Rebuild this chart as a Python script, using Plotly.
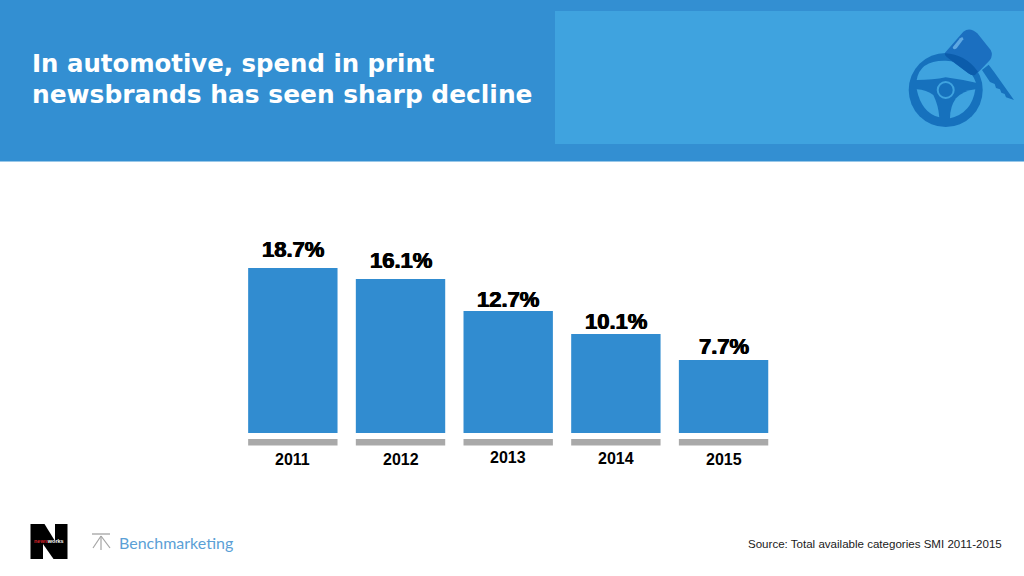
import plotly.graph_objects as go

years = ["2011", "2012", "2013", "2014", "2015"]
share_labels = ["18.7%", "16.1%", "12.7%", "10.1%", "7.7%"]
# Bar lengths as drawn in the picture (the source chart's first bar is not to scale with its label)
drawn_heights = [17.26, 16.1, 12.76, 10.36, 7.64]
rail_base = [-0.63] * 5
rail_length = [-0.68] * 5

W, H = 1024, 576
PX_PER_UNIT = 9.56
BASE_Y = 433
PLOT_TOP, PLOT_BOTTOM = 200, 470
PLOT_LEFT, PLOT_RIGHT = 239.0, 777.4

BLUE = "#318cd0"
HEADER = "#338fd2"
PANEL = "#3fa3df"
ICON = "#1671bd"
ICON_DARK = "#0b5cab"
GREY = "#a9a9a9"

label_shift = [0, 0, -7, -6, -5]
tick_shift = [0, 0, 1.5, 0.5, -0.5]


def px_path(d):
    out = []
    for tok in d.split():
        if tok.isalpha():
            out.append(tok)
        else:
            x, y = tok.split(",")
            out.append(f"{float(x)/W:.5f},{1-float(y)/H:.5f}")
    return " ".join(out)


def z(d):
    out = []
    for tok in d.split():
        if tok.isalpha():
            out.append(tok)
        else:
            x, y = tok.split(",")
            out.append(f"{900+float(x)/3:.2f},{20+float(y)/3:.2f}")
    return " ".join(out)


def rect(x0, y0, x1, y1, color):
    return dict(type="rect", xref="paper", yref="paper", x0=x0/W, x1=x1/W, y0=1-y0/H, y1=1-y1/H,
                fillcolor=color, line_width=0, layer="below")


def circle(cx, cy, r, color, line=None, lw=0):
    return dict(type="circle", xref="paper", yref="paper", x0=(cx-r)/W, x1=(cx+r)/W,
                y0=1-(cy+r)/H, y1=1-(cy-r)/H, fillcolor=color,
                line=dict(color=line or color, width=lw), layer="below")


def path(d, color):
    return dict(type="path", xref="paper", yref="paper", path=px_path(d), fillcolor=color,
                line=dict(color=color, width=0), layer="below")


def line(x0, y0, x1, y1, color, width=1.2):
    return dict(type="line", xref="paper", yref="paper", x0=x0/W, x1=x1/W, y0=1-y0/H, y1=1-y1/H,
                line=dict(color=color, width=width), layer="below")


shapes = [
    rect(0, 0, W, 161.5, HEADER),
    rect(555, 11, W, 144, PANEL),
    # steering wheel
    circle(945.7, 90, 37, ICON),
    path(z("M 50,180 Q 60,120 137,122 Q 205,125 228,188 Q 180,178 137,172 Q 100,180 50,180 Z"), PANEL),
    path(z("M 50,208 Q 80,210 100,225 Q 115,255 118,292 Q 65,280 50,208 Z"), PANEL),
    path(z("M 226,208 Q 190,212 168,235 Q 150,260 150,295 Q 215,280 226,208 Z"), PANEL),
    circle(945.7, 90, 8, ICON, PANEL, 2),
    # key blade
    path(z("M 246,150 L 266,134 L 284,158 L 342,240 L 318,232 L 314,222 L 304,218 L 300,208 L 288,204 L 284,192 L 270,186 Z"), ICON),
    # key head
    path(z("M 135,98 L 190,35 Q 210,20 232,40 L 272,90 Q 280,105 270,120 L 232,160 Q 222,170 205,160 L 145,115 Q 130,105 135,98 Z"), "#1b6fc0"),
    path(z("M 135,100 Q 195,102 234,155 L 225,165 Q 215,168 205,160 L 145,115 Q 132,106 135,100 Z"), ICON_DARK),
    path(z("M 158,82 L 180,55 Q 190,48 190,58 L 170,85 Q 160,92 158,82 Z"), "#5fa8e2"),
    # newsworks logo
    rect(30.5, 524, 67.5, 559, "#000000"),
    path("M 44.5,524 L 55,524 L 55,541 Z", "#ffffff"),
    path("M 43,544 L 53.5,559 L 43,559 Z", "#ffffff"),
    # benchmarketing mark
    line(92, 534, 110, 534, "#9a9a9a", 1.2),
    line(101, 536, 93, 548, "#a5a5a5", 1.2),
    line(101, 536, 101, 550, "#a5a5a5", 1.2),
    line(101, 536, 110, 548, "#a5a5a5", 1.2),
]

fig = go.Figure()
fig.add_trace(go.Bar(x=years, y=drawn_heights, marker=dict(color=BLUE, line_width=0), showlegend=False))
fig.add_trace(go.Bar(x=years, y=rail_length, base=rail_base, marker=dict(color=GREY, line_width=0), showlegend=False))

annotations = []
for i, text in enumerate(share_labels):
    annotations.append(dict(
        x=i, y=drawn_heights[i], xref="x", yref="y", text=text, showarrow=False,
        yanchor="bottom", yshift=4 + label_shift[i],
        font=dict(family="Liberation Sans", size=22, color="#000000", weight="bold",
                  shadow="0.5px 0 0 #000, -0.5px 0 0 #000"),
    ))
for i, year in enumerate(years):
    annotations.append(dict(
        x=i, y=0, xref="x", yref="y", text=year, showarrow=False, yanchor="middle",
        yshift=-26 + tick_shift[i],
        font=dict(family="Liberation Sans", size=16, color="#000000", weight="bold"),
    ))


def paper_text(x, y, text, size, color, family="Liberation Sans", weight="normal"):
    return dict(x=x/W, y=1-y/H, xref="paper", yref="paper", text=text, showarrow=False,
                xanchor="left", yanchor="middle", align="left",
                font=dict(family=family, size=size, color=color, weight=weight))


annotations += [
    paper_text(30, 63.5, "In automotive, spend in print", 24.4, "#ffffff", family="DejaVu Sans", weight="bold"),
    paper_text(30, 94.5, "newsbrands has seen sharp decline", 24.9, "#ffffff", family="DejaVu Sans", weight="bold"),
    paper_text(746, 544, "Source: Total available categories SMI 2011-2015", 11.55, "#1a1a1a"),
    paper_text(117, 542, "Benchmarketing", 16, "#5b9fd6", family="Lato"),
    paper_text(32, 541, "<span style='color:#d2232a'>news</span>works", 5.5, "#ffffff", weight="bold"),
]

fig.update_layout(
    width=W, height=H, margin=dict(l=0, r=0, t=0, b=0),
    paper_bgcolor="#ffffff", plot_bgcolor="rgba(0,0,0,0)",
    barmode="overlay", bargap=0.17, showlegend=False,
    xaxis=dict(domain=[PLOT_LEFT/W, PLOT_RIGHT/W], type="category", range=[-0.5, 4.5],
               showgrid=False, showticklabels=False, zeroline=False, showline=False, ticks="", fixedrange=True),
    yaxis=dict(domain=[1-PLOT_BOTTOM/H, 1-PLOT_TOP/H],
               range=[(BASE_Y-PLOT_BOTTOM)/PX_PER_UNIT, (BASE_Y-PLOT_TOP)/PX_PER_UNIT],
               showgrid=False, showticklabels=False, zeroline=False, showline=False, ticks="", fixedrange=True),
    shapes=shapes, annotations=annotations,
)
fig.write_html("out.html", config={"displayModeBar": False},
               post_script="document.body.style.margin='0';document.body.style.overflow='hidden';")
